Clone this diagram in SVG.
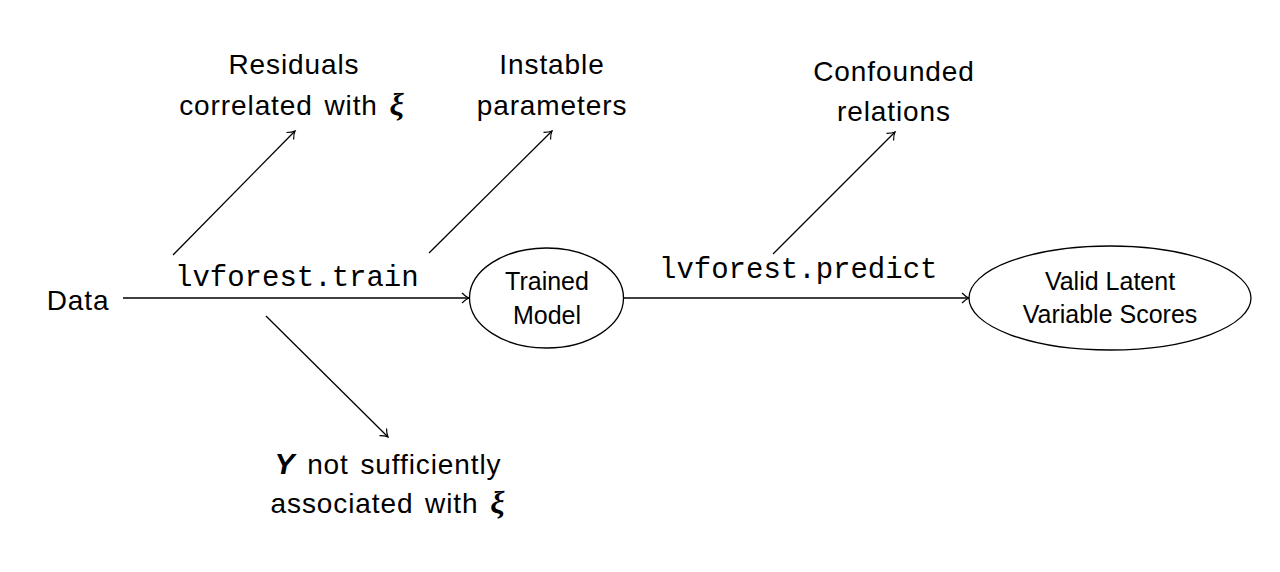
<svg xmlns="http://www.w3.org/2000/svg" width="1280" height="572" viewBox="0 0 1280 572">
<defs>
<style>
.t{font-family:"Liberation Sans",Arial,sans-serif;font-size:28px;fill:#000;text-anchor:middle;letter-spacing:0.9px;word-spacing:3px}
.n{font-family:"Liberation Sans",Arial,sans-serif;font-size:25px;fill:#000;text-anchor:middle}
.m{font-family:"Liberation Mono","Courier New",monospace;font-size:29px;fill:#000}
.x{font-family:"Liberation Serif","Times New Roman",serif;font-style:italic;font-weight:bold;font-size:32px}
.y{font-style:italic;font-weight:bold;font-size:30px}
.l{stroke:#000;stroke-width:1.3;fill:none}
.e{stroke:#000;stroke-width:1.3;fill:#fff}
</style>
<marker id="a" markerWidth="14" markerHeight="14" refX="10" refY="7" orient="auto" markerUnits="userSpaceOnUse">
<path d="M3,2 Q7,6 10,7 Q7,8 3,12" fill="none" stroke="#000" stroke-width="1.2"/>
</marker>
</defs>
<rect width="1280" height="572" fill="#fff"/>
<g id="connectors">
<line class="l" x1="123" y1="298" x2="469" y2="298" marker-end="url(#a)"/>
<line class="l" x1="624" y1="298" x2="969" y2="298" marker-end="url(#a)"/>
<line class="l" x1="173" y1="255" x2="295" y2="131" marker-end="url(#a)"/>
<line class="l" x1="429" y1="253" x2="552" y2="131" marker-end="url(#a)"/>
<line class="l" x1="773" y1="254" x2="895" y2="132" marker-end="url(#a)"/>
<line class="l" x1="266" y1="316" x2="388" y2="437" marker-end="url(#a)"/>
<text class="m" x="175" y="286">lvforest.train</text>
<text class="m" x="659" y="278">lvforest.predict</text>
</g>
<g id="data"><text class="t" x="78" y="310">Data</text></g>
<g id="trained-model">
<ellipse class="e" cx="546.5" cy="298" rx="77" ry="50"/>
<text class="n" x="547" y="290">Trained</text>
<text class="n" x="547" y="324">Model</text>
</g>
<g id="valid-scores">
<ellipse class="e" cx="1110" cy="298" rx="141" ry="52"/>
<text class="n" x="1110" y="290">Valid Latent</text>
<text class="n" x="1110" y="323">Variable Scores</text>
</g>
<g id="residuals">
<text class="t" x="294" y="74">Residuals</text>
<text class="t" x="292" y="115">correlated with <tspan class="x">ξ</tspan></text>
</g>
<g id="instable">
<text class="t" x="552" y="74">Instable</text>
<text class="t" x="552" y="115">parameters</text>
</g>
<g id="confounded">
<text class="t" x="894" y="81">Confounded</text>
<text class="t" x="894" y="121">relations</text>
</g>
<g id="y-not">
<text class="t" x="388" y="474"><tspan class="y">Y</tspan> not sufficiently</text>
<text class="t" x="388" y="513">associated with <tspan class="x">ξ</tspan></text>
</g>
</svg>
